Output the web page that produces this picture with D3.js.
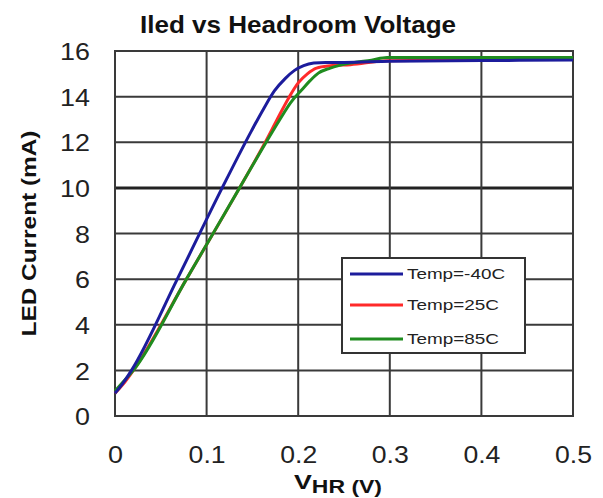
<!DOCTYPE html>
<html>
<head>
<meta charset="utf-8">
<script src="https://cdn.jsdelivr.net/npm/d3@7"></script>
<style>
html,body{margin:0;padding:0;background:#fff;}
svg{display:block;font-family:Arial,"Liberation Sans",sans-serif;}
</style>
</head>
<body>
<svg id="chart" width="603" height="498"></svg>
<script>
// ---- data ----
const xTicks = [0, 0.1, 0.2, 0.3, 0.4, 0.5];
const xTickLabels = ["0", "0.1", "0.2", "0.3", "0.4", "0.5"];
const yTicks = [0, 2, 4, 6, 8, 10, 12, 14, 16];
const seriesNames = ["Temp=-40C", "Temp=25C", "Temp=85C"];

const vM40 = [0, 0.008, 0.018, 0.068, 0.117, 0.149, 0.162, 0.174, 0.186, 0.196, 0.206, 0.217, 0.23, 0.25, 0.3, 0.4, 0.5];
const iM40 = [1.0, 1.4, 2.0, 6.0, 10.0, 12.5, 13.45, 14.25, 14.8, 15.15, 15.36, 15.47, 15.5, 15.5, 15.55, 15.58, 15.6];

const v25 = [0, 0.009, 0.02, 0.078, 0.136, 0.164, 0.177, 0.189, 0.2, 0.21, 0.22, 0.235, 0.257, 0.297, 0.35, 0.407];
const i25 = [1.0, 1.4, 2.0, 6.0, 10.0, 12.0, 13.0, 13.9, 14.6, 15.0, 15.25, 15.35, 15.4, 15.57, 15.6, 15.6];

const v85 = [0, 0.009, 0.02, 0.078, 0.136, 0.165, 0.18, 0.192, 0.204, 0.213, 0.222, 0.235, 0.257, 0.28, 0.297, 0.35, 0.5];
const i85 = [1.1, 1.5, 2.0, 6.0, 10.0, 12.0, 13.0, 13.75, 14.3, 14.7, 15.03, 15.25, 15.47, 15.6, 15.71, 15.72, 15.72];

const colors = ["#1c1c9c", "#ff2a2a", "#1f8c1f"];

// ---- layout ----
const svg = d3.select("#chart");
const L = 115, R = 573, T = 51, B = 416;
const x = d3.scaleLinear().domain([0, 0.5]).range([L, R]);
const y = d3.scaleLinear().domain([0, 16]).range([B, T]);

// title
svg.append("text").attr("x", 298).attr("y", 33).attr("text-anchor", "middle")
  .attr("font-size", 24).attr("font-weight", "bold").attr("fill", "#111")
  .attr("textLength", 316).attr("lengthAdjust", "spacingAndGlyphs")
  .text("Iled vs Headroom Voltage");

// grid
const grid = svg.append("g");
grid.selectAll("line.h").data(yTicks).join("line")
  .attr("x1", L).attr("x2", R).attr("y1", d => y(d)).attr("y2", d => y(d))
  .attr("stroke", d => d === 10 ? "#222" : "#3a3a3a")
  .attr("stroke-width", d => d === 10 ? 3 : 2);
grid.selectAll("line.v").data(xTicks).join("line")
  .attr("y1", T).attr("y2", B).attr("x1", d => x(d)).attr("x2", d => x(d))
  .attr("stroke", "#3a3a3a").attr("stroke-width", 2);
svg.append("rect").attr("x", L).attr("y", T).attr("width", R - L).attr("height", B - T)
  .attr("fill", "none").attr("stroke", "#3a3a3a").attr("stroke-width", 2);

// y tick labels
const yAxis = d3.axisLeft(y).tickValues(yTicks).tickSize(0).tickPadding(25);
const gy = svg.append("g").attr("transform", `translate(${L},0)`).call(yAxis);
gy.select(".domain").remove();
gy.selectAll("text").attr("font-size", 24).attr("fill", "#222")
  .attr("font-family", "Arial, 'Liberation Sans', sans-serif")
  .attr("transform", "scale(1.12,1)")
  .attr("x", -25 / 1.12)
  .attr("dy", "0.36em");

// x tick labels
const xAxis = d3.axisBottom(x).tickValues(xTicks).tickFormat((d, i) => xTickLabels[i]).tickSize(0).tickPadding(0);
const gx = svg.append("g").attr("transform", `translate(0,${B})`).call(xAxis);
gx.select(".domain").remove();
gx.selectAll("text").attr("font-size", 24).attr("fill", "#222")
  .attr("font-family", "Arial, 'Liberation Sans', sans-serif")
  .attr("y", 47).attr("dy", 0)
  .attr("textLength", (d, i) => xTickLabels[i].length === 1 ? 15 : 37)
  .attr("lengthAdjust", "spacingAndGlyphs");

// axis titles
svg.append("text").attr("transform", `translate(36,${(T + B) / 2}) rotate(-90)`)
  .attr("text-anchor", "middle").attr("font-size", 20).attr("font-weight", "bold").attr("fill", "#111")
  .attr("textLength", 206).attr("lengthAdjust", "spacingAndGlyphs")
  .text("LED Current (mA)");
const xl = svg.append("text").attr("x", 338).attr("y", 489).attr("text-anchor", "middle")
  .attr("font-weight", "bold").attr("fill", "#111")
  .attr("textLength", 88).attr("lengthAdjust", "spacingAndGlyphs");
xl.append("tspan").attr("font-size", 21).text("V");
xl.append("tspan").attr("font-size", 18).attr("dy", 4).text("HR");
xl.append("tspan").attr("font-size", 18).text(" (V)");

// lines
const series = [
  {v: vM40, i: iM40},
  {v: v25, i: i25},
  {v: v85, i: i85}
];
const line = d3.line().x(d => x(d[0])).y(d => y(d[1])).curve(d3.curveMonotoneX);
const order = [1, 2, 0];
order.forEach(k => {
  const s = series[k];
  svg.append("path").datum(s.v.map((vv, j) => [vv, s.i[j]]))
    .attr("d", line).attr("fill", "none").attr("stroke", colors[k]).attr("stroke-width", 3)
    .attr("stroke-linejoin", "round");
});

// legend
const lg = svg.append("g");
lg.append("rect").attr("x", 342).attr("y", 258).attr("width", 183).attr("height", 95)
  .attr("fill", "#fff").attr("stroke", "#333").attr("stroke-width", 2);
const legY = [274, 305, 339];
seriesNames.forEach((n, k) => {
  lg.append("line").attr("x1", 350).attr("x2", 403).attr("y1", legY[k]).attr("y2", legY[k])
    .attr("stroke", colors[k]).attr("stroke-width", 3);
  lg.append("text").attr("x", 407).attr("y", legY[k] + 5).attr("font-size", 15)
    .attr("fill", "#222").attr("textLength", k === 0 ? 98 : 92).attr("lengthAdjust", "spacingAndGlyphs")
    .text(n);
});
</script>
</body>
</html>
